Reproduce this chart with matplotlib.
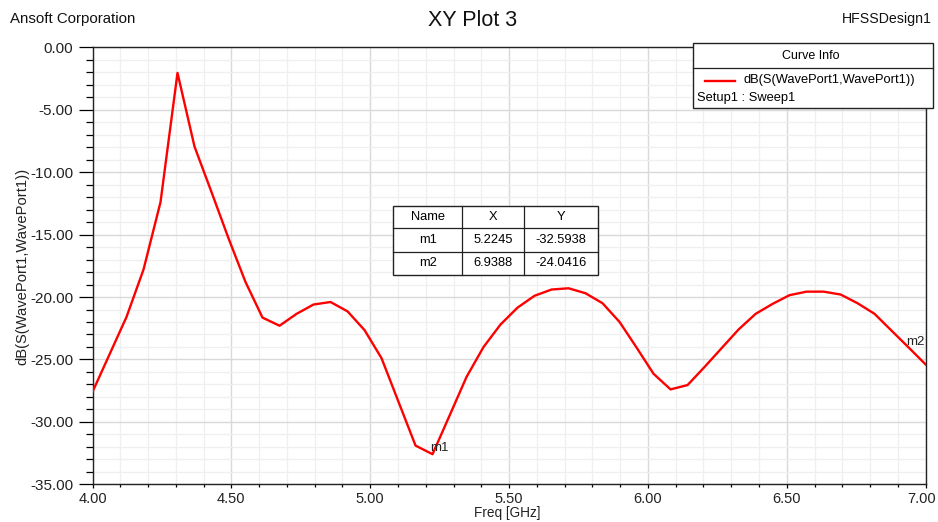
"""Recreate the HFSS 'XY Plot 3' return-loss chart (S11 in dB vs frequency)."""

import matplotlib
matplotlib.use("Agg")
import matplotlib.pyplot as plt
from matplotlib.patches import Rectangle
from matplotlib.lines import Line2D
from matplotlib.ticker import MultipleLocator, FormatStrFormatter
from matplotlib.transforms import ScaledTranslation

plt.rcParams['font.family'] = ['Liberation Sans', 'DejaVu Sans']

# Sweep points (GHz) and dB(S(WavePort1,WavePort1))
freq_ghz = [
    4.0000, 4.0612, 4.1224, 4.1837, 4.2449, 4.3061, 4.3673, 4.4286, 4.4898, 4.5510,
    4.6122, 4.6735, 4.7347, 4.7959, 4.8571, 4.9184, 4.9796, 5.0408, 5.1020, 5.1633,
    5.2245, 5.2857, 5.3469, 5.4082, 5.4694, 5.5306, 5.5918, 5.6531, 5.7143, 5.7755,
    5.8367, 5.8980, 5.9592, 6.0204, 6.0816, 6.1429, 6.2041, 6.2653, 6.3265, 6.3878,
    6.4490, 6.5102, 6.5714, 6.6327, 6.6939, 6.7551, 6.8163, 6.8776, 6.9388, 7.0000,
]
s11_db = [
    -27.60, -24.60, -21.60, -17.80, -12.40, -2.05, -7.95, -11.60, -15.30, -18.80,
    -21.65, -22.30, -21.35, -20.60, -20.40, -21.15, -22.65, -24.90, -28.40, -31.90,
    -32.59, -29.50, -26.40, -24.00, -22.20, -20.85, -19.90, -19.40, -19.30, -19.70,
    -20.50, -22.00, -24.05, -26.15, -27.40, -27.05, -25.60, -24.10, -22.60, -21.35,
    -20.55, -19.85, -19.57, -19.57, -19.80, -20.50, -21.35, -22.70, -24.04, -25.40,
]

# markers
marker_names = ["m1", "m2"]
marker_x = [5.2245, 6.9388]
marker_y = [-32.5938, -24.0416]

W, H = 938, 522


def fx(x):
    return x / W


def fy(y):
    return 1 - y / H


fig = plt.figure(figsize=(W / 100, H / 100), dpi=100)
ax = fig.add_axes([fx(92.5), fy(484.3), (925.6 - 92.5) / W, (484.3 - 47.3) / H])

ax.plot(freq_ghz, s11_db, color='#ff0000', lw=1.7, zorder=3)

for name, mx, my in zip(marker_names, marker_x, marker_y):
    ax.annotate(name, (mx, my), xytext=(-1.5, 4.3), textcoords='offset points',
                ha='left', va='center', fontsize=9.5, color='#222222', zorder=4)

ax.set_xlim(4.0, 7.0)
ax.set_ylim(-35.0, 0.0)
ax.xaxis.set_major_locator(MultipleLocator(0.5))
ax.xaxis.set_minor_locator(MultipleLocator(0.1))
ax.yaxis.set_major_locator(MultipleLocator(5))
ax.yaxis.set_minor_locator(MultipleLocator(1))
ax.xaxis.set_major_formatter(FormatStrFormatter('%.2f'))
ax.yaxis.set_major_formatter(FormatStrFormatter('%.2f'))

ax.set_axisbelow(True)
ax.grid(which='minor', color='#efefef', lw=0.9)
ax.grid(which='major', color='#d9d9d9', lw=1.0)

ax.tick_params(axis='y', which='major', direction='out', length=10, width=0.9,
               pad=4, labelsize=11, labelcolor='#222222')
ax.tick_params(axis='y', which='minor', direction='out', length=5, width=0.9)
ax.tick_params(axis='x', which='major', direction='out', length=3, width=0.9,
               pad=2.5, labelsize=10.5, labelcolor='#222222')
ax.tick_params(axis='x', which='minor', direction='out', length=1.8, width=0.9)
for sp in ax.spines.values():
    sp.set_linewidth(1.0)
    sp.set_color('#222222')

# header texts
fig.text(fx(473), fy(21), "XY Plot 3", ha='center', va='center', fontsize=15.5, color='#111111')
fig.text(fx(10), fy(19), "Ansoft Corporation", ha='left', va='center', fontsize=10.8, color='#111111')
fig.text(fx(932), fy(19), "HFSSDesign1", ha='right', va='center', fontsize=10.2, color='#111111')

fig.text(fx(507), fy(513), "Freq [GHz]", ha='center', va='center', fontsize=9.8, color='#222222')
fig.text(fx(22), fy(266), "dB(S(WavePort1,WavePort1))", ha='center', va='center',
         rotation=90, fontsize=10.6, color='#222222')

# Curve info box
lx0, ly0, lx1, ly1 = 693.3, 43.3, 933.3, 108.3
fig.add_artist(Rectangle((fx(lx0), fy(ly1)), (lx1 - lx0) / W, (ly1 - ly0) / H,
                         transform=fig.transFigure, facecolor='white',
                         edgecolor='#222222', lw=1.0, zorder=5))
fig.add_artist(Line2D([fx(lx0), fx(lx1)], [fy(68.3), fy(68.3)], color='#222222',
                      lw=0.9, zorder=6))
fig.add_artist(Line2D([fx(705), fx(735)], [fy(80.5), fy(80.5)], color='#ff0000',
                      lw=1.7, zorder=6))
fig.text(fx(811), fy(56), "Curve Info", ha='center', va='center', fontsize=9, zorder=7)
fig.text(fx(743), fy(80.5), "dB(S(WavePort1,WavePort1))", ha='left', va='center',
         fontsize=9.3, zorder=7)
fig.text(fx(697), fy(98), "Setup1 : Sweep1", ha='left', va='center', fontsize=9.3, zorder=7)

# marker table
tx = [393.3, 462.3, 524.3, 598.3]
ty = [205.7, 227.7, 251.7, 275.0]
fig.add_artist(Rectangle((fx(tx[0]), fy(ty[-1])), (tx[-1] - tx[0]) / W, (ty[-1] - ty[0]) / H,
                         transform=fig.transFigure, facecolor='white',
                         edgecolor='#222222', lw=1.0, zorder=5))
for x in tx[1:-1]:
    fig.add_artist(Line2D([fx(x), fx(x)], [fy(ty[0]), fy(ty[-1])], color='#222222',
                          lw=0.9, zorder=6))
for y in ty[1:-1]:
    fig.add_artist(Line2D([fx(tx[0]), fx(tx[-1])], [fy(y), fy(y)], color='#222222',
                          lw=0.9, zorder=6))
rows = [["Name", "X", "Y"]] + [[n, f"{x:.4f}", f"{y:.4f}"]
                               for n, x, y in zip(marker_names, marker_x, marker_y)]
for r, row in enumerate(rows):
    cy = (ty[r] + ty[r + 1]) / 2
    for c, txt in enumerate(row):
        cx = (tx[c] + tx[c + 1]) / 2
        fig.text(fx(cx), fy(cy), txt, ha='center', va='center', fontsize=9.3, zorder=7)

# keep the 7.00 label inside the canvas (nudge it a few px left)
fig.canvas.draw()
for tick in ax.xaxis.get_major_ticks():
    if abs(tick.get_loc() - 7.0) < 1e-6:
        lab = tick.label1
        lab.set_transform(lab.get_transform()
                          + ScaledTranslation(-0.04, 0, fig.dpi_scale_trans))

fig.savefig("out.png", dpi=100)
